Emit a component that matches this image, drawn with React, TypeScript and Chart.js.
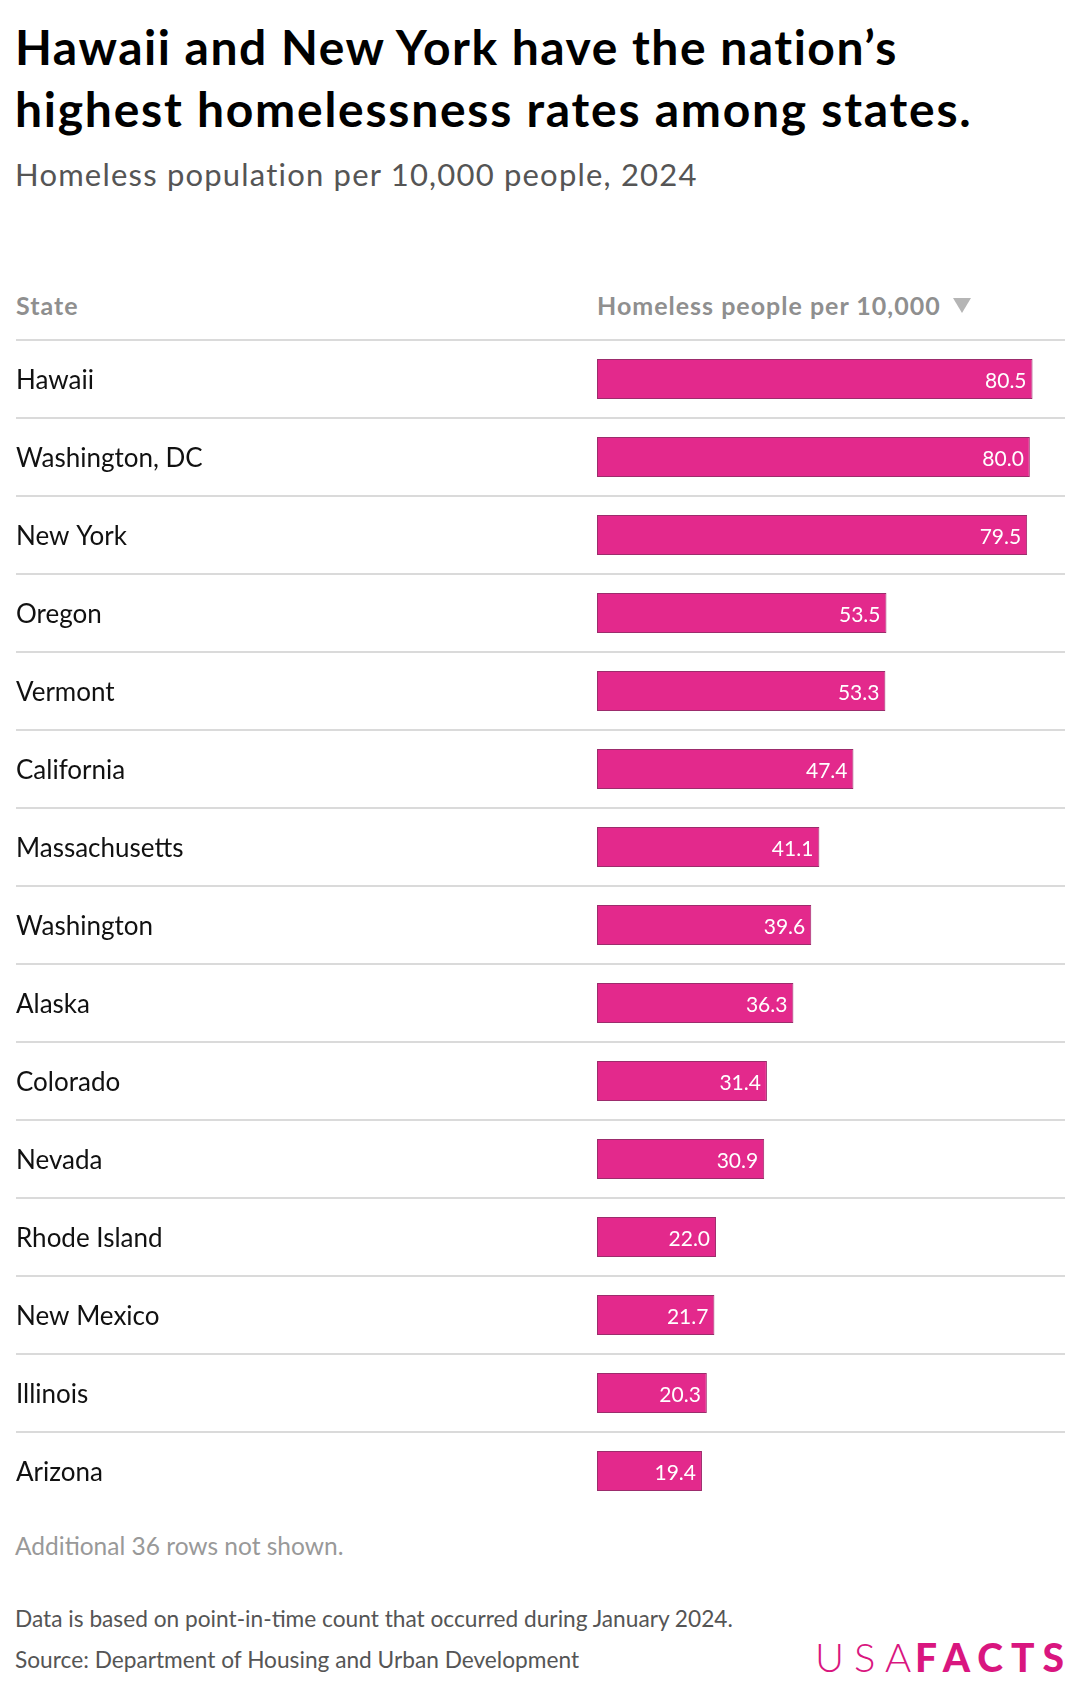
import React, { useEffect, useRef } from "react";
import { Chart, registerables } from "chart.js";

Chart.register(...registerables);

const states = [
  "Hawaii",
  "Washington, DC",
  "New York",
  "Oregon",
  "Vermont",
  "California",
  "Massachusetts",
  "Washington",
  "Alaska",
  "Colorado",
  "Nevada",
  "Rhode Island",
  "New Mexico",
  "Illinois",
  "Arizona",
];
const rates = [80.5, 80.0, 79.5, 53.5, 53.3, 47.4, 41.1, 39.6, 36.3, 31.4, 30.9, 22.0, 21.7, 20.3, 19.4];

const FONT = "Lato, 'Noto Sans', sans-serif";
const BAR = "#e3298c";

const rowLines = {
  id: "rowLines",
  beforeDatasetsDraw(chart: any) {
    const { ctx } = chart;
    const y = chart.scales.y;
    ctx.save();
    ctx.strokeStyle = "#dadada";
    ctx.lineWidth = 2;
    const step = y.getPixelForValue(1) - y.getPixelForValue(0);
    for (let i = 0; i < states.length; i++) {
      const py = Math.round(y.getPixelForValue(i) - step / 2);
      ctx.beginPath();
      ctx.moveTo(0, py);
      ctx.lineTo(chart.width, py);
      ctx.stroke();
    }
    ctx.restore();
  },
};

const valueLabels = {
  id: "valueLabels",
  afterDatasetsDraw(chart: any) {
    const { ctx } = chart;
    const meta = chart.getDatasetMeta(0);
    ctx.save();
    ctx.fillStyle = "#ffffff";
    ctx.font = `21px ${FONT}`;
    ctx.textAlign = "right";
    ctx.textBaseline = "middle";
    meta.data.forEach((bar: any, i: number) => {
      ctx.fillText(rates[i].toFixed(1), bar.x - 6, bar.y + 2);
    });
    ctx.restore();
  },
};

function BarTable() {
  const ref = useRef<HTMLCanvasElement>(null);
  useEffect(() => {
    if (!ref.current) return;
    const chart = new Chart(ref.current, {
      type: "bar",
      data: {
        labels: states,
        datasets: [
          {
            data: rates,
            backgroundColor: BAR,
            borderColor: "#9c2c6c",
            borderWidth: 1,
            borderSkipped: false,
            barPercentage: 0.51,
            categoryPercentage: 1,
          },
        ],
      },
      options: {
        indexAxis: "y",
        animation: false,
        responsive: false,
        maintainAspectRatio: false,
        layout: { padding: { top: 20, bottom: 20, left: 0, right: 0 } },
        plugins: { legend: { display: false }, tooltip: { enabled: false } },
        scales: {
          x: { display: false, min: 0, max: 86.5 },
          y: {
            grid: { display: false },
            border: { display: false },
            afterFit: (s: any) => {
              s.width = 581;
            },
            ticks: {
              crossAlign: "far",
              color: "#111111",
              font: { family: FONT, size: 26 },
              padding: 0,
              labelOffset: 2,
            },
          },
        },
      },
      plugins: [rowLines, valueLabels],
    });
    return () => chart.destroy();
  }, []);
  return (
    <canvas
      ref={ref}
      width={1049}
      height={1210}
      style={{ position: "absolute", left: 16, top: 320, width: 1049, height: 1210 }}
    />
  );
}

const txt = (
  baseline: number,
  size: number,
  extra: React.CSSProperties
): React.CSSProperties => ({
  position: "absolute",
  top: baseline - 0.987 * size,
  fontSize: size,
  lineHeight: `${1.2 * size}px`,
  fontFamily: FONT,
  whiteSpace: "nowrap",
  margin: 0,
  ...extra,
});

export default function App() {
  return (
    <div
      style={{
        position: "absolute",
        left: 0,
        top: 0,
        width: 1080,
        height: 1694,
        background: "#fff",
        overflow: "hidden",
      }}
    >
      <div style={txt(65, 48, { left: 15, fontWeight: 700, color: "#000", letterSpacing: 1.5 })}>
        Hawaii and New York have the nation’s
      </div>
      <div style={txt(127, 48, { left: 15, fontWeight: 700, color: "#000", letterSpacing: 1.75 })}>
        highest homelessness rates among states.
      </div>
      <div style={txt(187, 31, { left: 15, color: "#555", letterSpacing: 1.2 })}>
        Homeless population per 10,000 people, 2024
      </div>
      <div style={txt(315, 25, { left: 16, fontWeight: 700, color: "#8f8f8f", letterSpacing: 1 })}>
        State
      </div>
      <div style={txt(315, 25, { left: 597, fontWeight: 700, color: "#8f8f8f", letterSpacing: 1 })}>
        Homeless people per 10,000
      </div>
      <div
        style={{
          position: "absolute",
          left: 953,
          top: 298,
          width: 0,
          height: 0,
          borderLeft: "9px solid transparent",
          borderRight: "9px solid transparent",
          borderTop: "15px solid #b5b5b5",
        }}
      />
      <BarTable />
      <div style={txt(1555, 24.5, { left: 15, color: "#999" })}>Additional 36 rows not shown.</div>
      <div style={txt(1627, 22.7, { left: 15, color: "#555" })}>
        Data is based on point-in-time count that occurred during January 2024.
      </div>
      <div style={txt(1668, 22.7, { left: 15, color: "#555" })}>
        Source: Department of Housing and Urban Development
      </div>
      <div style={txt(1672, 40, { left: 815, color: "#d9167f", fontWeight: 300, letterSpacing: 10 })}>
        USA
      </div>
      <div style={txt(1672, 39, { left: 915, color: "#d9167f", fontWeight: 900, letterSpacing: 8 })}>
        FACTS
      </div>
    </div>
  );
}
